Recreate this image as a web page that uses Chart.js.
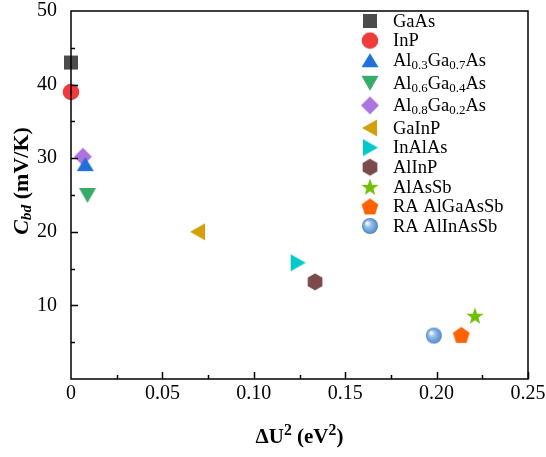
<!DOCTYPE html>
<html>
<head>
<meta charset="utf-8">
<script src="https://cdn.jsdelivr.net/npm/chart.js@4.4.1/dist/chart.umd.min.js"></script>
<style>
  html, body { margin: 0; padding: 0; background: #fff; }
  #wrap { width: 546px; height: 457px; }
</style>
</head>
<body>
<div id="wrap"><canvas id="cbdChart"></canvas></div>
<script>
// material names, "_{...}" marks a subscript
const materials = [
  'GaAs', 'InP', 'Al_{0.3}Ga_{0.7}As', 'Al_{0.6}Ga_{0.4}As', 'Al_{0.8}Ga_{0.2}As',
  'GaInP', 'InAlAs', 'AlInP', 'AlAsSb', 'RA AlGaAsSb', 'RA AlInAsSb'
];
// ΔU^2 (eV^2)
const deltaU2 = [0, 0, 0.0078, 0.009, 0.0065, 0.0695, 0.124, 0.1335, 0.221, 0.2135, 0.1985];
// C_bd (mV/K)
const cbd = [43, 39, 29.2, 25, 30.2, 20, 15.8, 13.2, 8.6, 6.0, 5.9];
const markerShapes = ['square', 'circle', 'triUp', 'triDown', 'diamond', 'triLeft', 'triRight', 'hexagon', 'star', 'pentagon', 'sphere'];
const markerColors = ['#4b4b4b', '#ef3b3b', '#1f6fdc', '#36ab6a', '#ad74de', '#d4a00a', '#00c9cc', '#7b4b4b', '#6fc000', '#ff6200', '#6a9fd6'];

const xTicks = [0, 0.05, 0.10, 0.15, 0.20, 0.25];
const yTicks = [10, 20, 30, 40, 50];

const FONT = '"Liberation Serif", "Times New Roman", serif';

// marker bitmaps, used both in the plot and in the legend
function polygon(ctx, cx, cy, r, n, rot) {
  ctx.beginPath();
  for (let i = 0; i < n; i++) {
    const a = rot + i * 2 * Math.PI / n;
    const px = cx + r * Math.cos(a), py = cy + r * Math.sin(a);
    i ? ctx.lineTo(px, py) : ctx.moveTo(px, py);
  }
  ctx.closePath();
}

function makeMarker(shape, color) {
  const S = 20, c = document.createElement('canvas');
  c.width = S; c.height = S;
  const ctx = c.getContext('2d');
  const m = S / 2;
  ctx.fillStyle = color;
  switch (shape) {
    case 'square':
      ctx.fillRect(m - 7, m - 7, 14, 14); return c;
    case 'circle':
      ctx.beginPath(); ctx.arc(m, m, 8.3, 0, 2 * Math.PI); break;
    case 'triUp':
      ctx.beginPath(); ctx.moveTo(m, m - 7); ctx.lineTo(m + 8.5, m + 7); ctx.lineTo(m - 8.5, m + 7); ctx.closePath(); break;
    case 'triDown':
      ctx.beginPath(); ctx.moveTo(m, m + 8); ctx.lineTo(m + 8.5, m - 7); ctx.lineTo(m - 8.5, m - 7); ctx.closePath(); break;
    case 'triLeft':
      ctx.beginPath(); ctx.moveTo(m - 8, m); ctx.lineTo(m + 7, m - 8.5); ctx.lineTo(m + 7, m + 8.5); ctx.closePath(); break;
    case 'triRight':
      ctx.beginPath(); ctx.moveTo(m + 8, m); ctx.lineTo(m - 7, m - 8.5); ctx.lineTo(m - 7, m + 8.5); ctx.closePath(); break;
    case 'diamond':
      polygon(ctx, m, m, 9, 4, 0); break;
    case 'hexagon':
      polygon(ctx, m, m, 8.5, 6, -Math.PI / 2); break;
    case 'pentagon':
      polygon(ctx, m, m + 0.8, 8.8, 5, -Math.PI / 2); break;
    case 'star':
      ctx.beginPath();
      for (let i = 0; i < 10; i++) {
        const r = i % 2 ? 3.6 : 9;
        const a = -Math.PI / 2 + i * Math.PI / 5;
        const px = m + r * Math.cos(a), py = m + 0.8 + r * Math.sin(a);
        i ? ctx.lineTo(px, py) : ctx.moveTo(px, py);
      }
      ctx.closePath(); break;
    case 'sphere': {
      const g = ctx.createRadialGradient(m - 3, m - 3, 0.5, m, m, 8);
      g.addColorStop(0, '#ffffff');
      g.addColorStop(0.35, '#9cc2ea');
      g.addColorStop(0.75, color);
      g.addColorStop(1, '#4f84c0');
      ctx.fillStyle = g;
      ctx.beginPath(); ctx.arc(m, m, 8, 0, 2 * Math.PI); break;
    }
  }
  ctx.fill();
  return c;
}

const markers = markerShapes.map((s, i) => makeMarker(s, markerColors[i]));

// draws text with _{...} subscripts and ^{...} superscripts, returns width
function richText(ctx, text, x, y, size, weight, style, measureOnly) {
  const parts = text.split(/([_^]\{[^}]*\})/).filter(p => p.length);
  let w = 0;
  for (const p of parts) {
    let t = p, s = size, dy = 0;
    if (p.startsWith('_{')) { t = p.slice(2, -1); s = size * 0.7; dy = size * 0.25; }
    else if (p.startsWith('^{')) { t = p.slice(2, -1); s = size * 0.75; dy = -size * 0.34; }
    ctx.font = `${style || ''} ${weight || ''} ${s}px ${FONT}`;
    if (!measureOnly) ctx.fillText(t, x + w, y + dy);
    w += ctx.measureText(t).width;
  }
  return w;
}

// frame, inward ticks, axis titles and legend
const decorations = {
  id: 'decorations',
  afterDatasetsDraw(chart) {
    const { ctx, chartArea: a, scales: { x, y } } = chart;
    ctx.save();
    ctx.strokeStyle = '#000';
    ctx.lineWidth = 1.5;
    ctx.strokeRect(a.left, a.top, a.right - a.left, a.bottom - a.top);

    ctx.beginPath();
    for (let v = 0.025; v < 0.25; v += 0.025) {
      const px = Math.round(x.getPixelForValue(v)) + 0.5;
      const len = Math.round(v / 0.025) % 2 ? 4 : 7;
      ctx.moveTo(px, a.bottom); ctx.lineTo(px, a.bottom - len);
    }
    for (let v = 5; v < 50; v += 5) {
      const py = Math.round(y.getPixelForValue(v)) + 0.5;
      const len = v % 10 ? 4 : 7;
      ctx.moveTo(a.left, py); ctx.lineTo(a.left + len, py);
    }
    ctx.stroke();

    ctx.fillStyle = '#000';
    ctx.textBaseline = 'middle';
    ctx.textAlign = 'left';

    // x title
    const xt = 'ΔU^{2} (eV^{2})';
    const xw = richText(ctx, xt, 0, 0, 21, 'bold', '', true);
    richText(ctx, xt, (a.left + a.right) / 2 - xw / 2, 438, 21, 'bold', '');

    // y title, rotated
    ctx.save();
    ctx.translate(22, (a.top + a.bottom) / 2 - 14);
    ctx.rotate(-Math.PI / 2);
    const w1 = richText(ctx, 'C_{bd}', 0, 0, 22, 'bold', 'italic', true);
    const w2 = richText(ctx, ' (mV/K)', 0, 0, 22, 'bold', '', true);
    const x0 = -(w1 + w2) / 2;
    richText(ctx, 'C_{bd}', x0, 0, 22, 'bold', 'italic');
    richText(ctx, ' (mV/K)', x0 + w1, 0, 22, 'bold', '');
    ctx.restore();

    // legend
    let ly = a.top + 10;
    materials.forEach((name, i) => {
      const m = markers[i];
      ctx.drawImage(m, 370 - m.width / 2, ly - m.height / 2);
      ctx.fillStyle = '#000';
      richText(ctx, name, 393, ly + 1, 18.5, '', '');
      ly += name.includes('_{') ? 22.6 : 19.6;
    });
    ctx.restore();
  }
};

const datasets = materials.map((name, i) => ({
  label: name,
  data: [{ x: deltaU2[i], y: cbd[i] }],
  pointStyle: markers[i],
  pointRadius: 9,
  pointHoverRadius: 9,
  backgroundColor: markerColors[i],
  borderColor: markerColors[i],
  clip: false
}));

new Chart(document.getElementById('cbdChart'), {
  type: 'scatter',
  data: { datasets },
  options: {
    responsive: true,
    maintainAspectRatio: false,
    animation: false,
    layout: { padding: { top: 11, right: 18, left: 0, bottom: 0 } },
    plugins: { legend: { display: false }, tooltip: { enabled: false } },
    scales: {
      x: {
        type: 'linear',
        min: 0, max: 0.25,
        grid: { display: false },
        border: { display: false },
        afterBuildTicks: s => { s.ticks = xTicks.map(v => ({ value: v })); },
        afterFit: s => { s.height = 78; s.paddingLeft = 0; s.paddingRight = 0; },
        ticks: {
          color: '#000',
          padding: -5,
          font: { family: FONT, size: 20 },
          callback: v => v === 0 ? '0' : v.toFixed(2)
        }
      },
      y: {
        type: 'linear',
        min: 0, max: 50,
        grid: { display: false },
        border: { display: false },
        afterBuildTicks: s => { s.ticks = yTicks.map(v => ({ value: v })); },
        afterFit: s => { s.width = 71; s.paddingTop = 0; s.paddingBottom = 0; },
        ticks: {
          color: '#000',
          padding: 6,
          font: { family: FONT, size: 20 },
          callback: v => String(v)
        }
      }
    }
  },
  plugins: [decorations]
});
</script>
</body>
</html>
